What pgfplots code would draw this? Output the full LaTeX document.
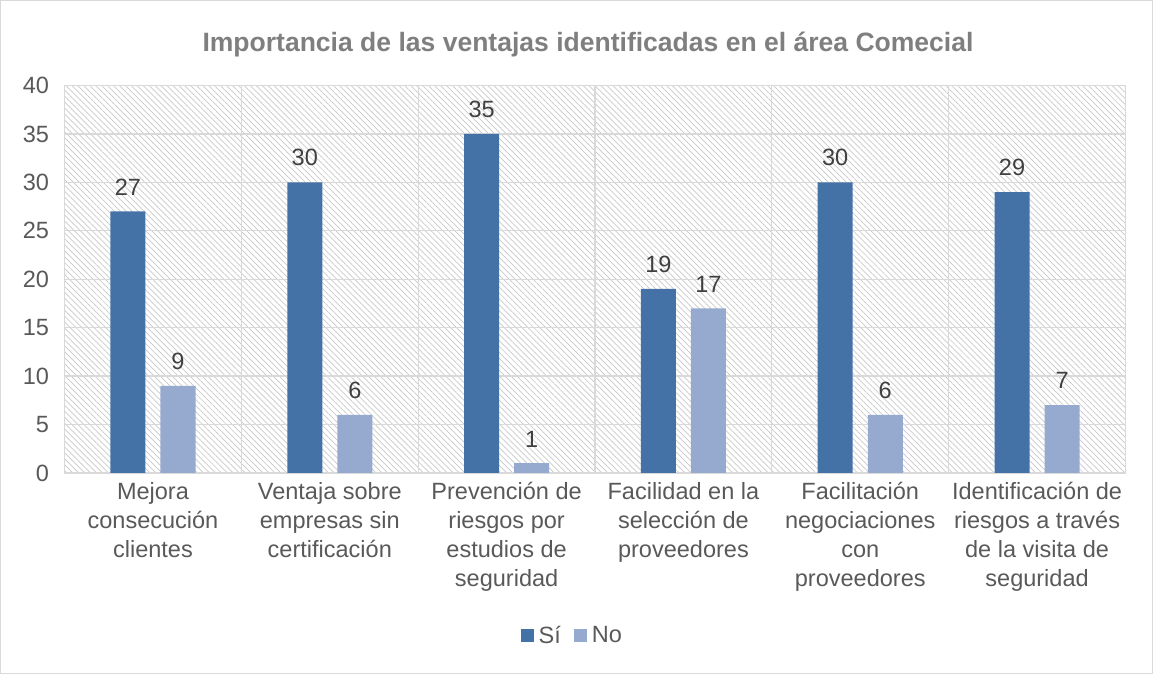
\documentclass[border=0pt]{standalone}
\usepackage{pgfplots}
\pgfplotsset{compat=1.18}
\usepackage{fontspec}
\setmainfont{Liberation Sans}
\usetikzlibrary{patterns.meta}
\definecolor{si}{RGB}{68,114,166}
\definecolor{no}{RGB}{150,170,208}
\definecolor{txt}{RGB}{89,89,89}
\definecolor{lbl}{RGB}{64,64,64}
\definecolor{ttl}{RGB}{127,127,127}
\definecolor{gridc}{RGB}{217,217,217}
\definecolor{hatch}{RGB}{200,200,200}
\begin{document}
\begin{tikzpicture}[x=1pt,y=1pt]
\draw[gridc, line width=1pt] (1,1) rectangle (1152,673);
\node[font=\fontsize{26.5}{30}\selectfont\bfseries, text=ttl] at (588,629) {Importancia de las ventajas identificadas en el área Comecial};
\begin{axis}[
  at={(65pt,201pt)}, anchor=south west,
  scale only axis, width=1060pt, height=387pt,
  xmin=-0.5, xmax=5.5, ymin=0, ymax=40,
  /pgf/number format/assume math mode=true,
  ytick={0,5,...,40},
  xtick={0,...,5},
  xticklabels={Mejora\\consecución\\clientes, Ventaja sobre\\empresas sin\\certificación, Prevención de\\riesgos por\\estudios de\\seguridad, Facilidad en la\\selección de\\proveedores, Facilitación\\negociaciones\\con\\proveedores, Identificación de\\riesgos a través\\de la visita de\\seguridad},
  minor xtick={0.5,1.5,...,4.5},
  xminorgrids=true, ymajorgrids=true,
  grid style={gridc, line width=1.2pt},
  minor grid style={gridc, line width=1.2pt},
  major tick length=0pt, minor tick length=0pt,
  axis line style={gridc, line width=1.2pt},
  axis background/.style={pattern={Lines[angle=-45,distance=4.2pt,line width=0.7pt]}, pattern color=hatch},
  tick label style={font=\fontsize{23.5}{29}\selectfont, text=txt},
  yticklabel style={xshift=-12pt},
  xticklabel style={align=center, yshift=-6pt},
  ybar, bar width=35pt,
  nodes near coords,
  every node near coord/.append style={font=\fontsize{23.5}{28}\selectfont, text=lbl, inner sep=0pt, yshift=16pt, anchor=south},
  legend style={at={(rel axis cs:0.48,-0.42)}, anchor=center, draw=none, fill=none, legend columns=2, font=\fontsize{23.5}{28}\selectfont, text=txt, nodes={inner xsep=5pt}, /tikz/every even column/.append style={column sep=8pt}},
  legend image code/.code={\fill[#1] (0pt,-6.5pt) rectangle (13pt,6.5pt);},
]
\addplot[fill=si, draw=none, bar shift=-25pt] coordinates {(0,27) (1,30) (2,35) (3,19) (4,30) (5,29)};
\addplot[fill=no, draw=none, bar shift=25pt] coordinates {(0,9) (1,6) (2,1) (3,17) (4,6) (5,7)};
\legend{Sí, No}
\end{axis}
\end{tikzpicture}
\end{document}
